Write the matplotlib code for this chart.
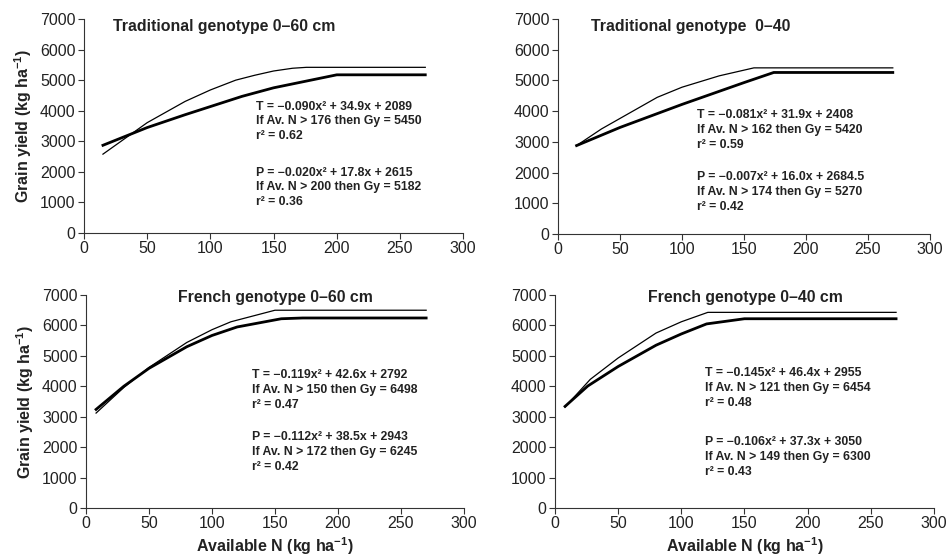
import numpy as np
import matplotlib
matplotlib.use("Agg")
import matplotlib.pyplot as plt

plt.rcParams['font.family'] = ['Liberation Sans', 'DejaVu Sans']
plt.rcParams['mathtext.fontset'] = 'custom'
plt.rcParams['mathtext.rm'] = 'Liberation Sans:bold'
plt.rcParams['mathtext.bf'] = 'Liberation Sans:bold'
plt.rcParams['mathtext.default'] = 'bf'

# valores: N disponible (kg/ha) y rendimiento (kg/ha)
# Traditional 0-60
trad60_T_x = [15, 50, 80, 100, 120, 135, 150, 165, 176, 270]
trad60_T_y = [2580, 3610, 4305, 4680, 5000, 5160, 5300, 5390, 5420, 5420]
trad60_P_x = [15, 50, 80, 125, 150, 200, 270]
trad60_P_y = [2870, 3450, 3870, 4470, 4750, 5175, 5175]

# Traditional 0-40
trad40_T_x = [15, 35, 80, 100, 130, 158, 270]
trad40_T_y = [2880, 3420, 4450, 4780, 5150, 5410, 5410]
trad40_P_x = [15, 50, 80, 100, 150, 174, 270]
trad40_P_y = [2880, 3470, 3920, 4220, 4930, 5260, 5260]

# French 0-60
fr60_T_x = [8, 30, 50, 80, 100, 115, 150, 270]
fr60_T_y = [3120, 3960, 4620, 5440, 5860, 6120, 6500, 6500]
fr60_P_x = [8, 30, 50, 80, 100, 120, 155, 172, 270]
fr60_P_y = [3240, 4000, 4590, 5300, 5670, 5950, 6220, 6245, 6245]

# French 0-40
fr40_T_x = [8, 28, 50, 80, 100, 121, 270]
fr40_T_y = [3320, 4230, 4930, 5750, 6120, 6430, 6430]
fr40_P_x = [8, 26, 50, 80, 100, 120, 150, 270]
fr40_P_y = [3340, 4010, 4650, 5350, 5720, 6050, 6220, 6220]

titulos = ['Traditional genotype 0\u201360 cm', 'Traditional genotype  0\u201340',
           'French genotype 0\u201360 cm', 'French genotype 0\u201340 cm']

textos_T = ['T = \u22120.090x\u00b2 + 34.9x + 2089\nIf Av. N > 176 then Gy = 5450\nr\u00b2 = 0.62',
            'T = \u22120.081x\u00b2 + 31.9x + 2408\nIf Av. N > 162 then Gy = 5420\nr\u00b2 = 0.59',
            'T = \u22120.119x\u00b2 + 42.6x + 2792\nIf Av. N > 150 then Gy = 6498\nr\u00b2 = 0.47',
            'T = \u22120.145x\u00b2 + 46.4x + 2955\nIf Av. N > 121 then Gy = 6454\nr\u00b2 = 0.48']
textos_P = ['P = \u22120.020x\u00b2 + 17.8x + 2615\nIf Av. N > 200 then Gy = 5182\nr\u00b2 = 0.36',
            'P = \u22120.007x\u00b2 + 16.0x + 2684.5\nIf Av. N > 174 then Gy = 5270\nr\u00b2 = 0.42',
            'P = \u22120.112x\u00b2 + 38.5x + 2943\nIf Av. N > 172 then Gy = 6245\nr\u00b2 = 0.42',
            'P = \u22120.106x\u00b2 + 37.3x + 3050\nIf Av. N > 149 then Gy = 6300\nr\u00b2 = 0.43']

curvas = [(trad60_T_x, trad60_T_y, trad60_P_x, trad60_P_y),
          (trad40_T_x, trad40_T_y, trad40_P_x, trad40_P_y),
          (fr60_T_x, fr60_T_y, fr60_P_x, fr60_P_y),
          (fr40_T_x, fr40_T_y, fr40_P_x, fr40_P_y)]

posiciones = [[0.0886, 0.5824, 0.400, 0.3835],
              [0.5886, 0.5806, 0.3924, 0.3853],
              [0.0907, 0.0896, 0.3987, 0.3817],
              [0.5854, 0.0896, 0.3998, 0.3817]]

# donde van los titulos y las ecuaciones (coordenadas de datos)
pos_titulo = [(23, 6760, 'left'), (27, 6760, 'left'), (150, 6930, 'center'), (151, 6930, 'center')]
pos_T = [(136, 4330), (112, 4060), (132, 4560), (119, 4630)]
pos_P = [(136, 2170), (112, 2040), (132, 2520), (119, 2360)]

color_txt = '#222222'
fig = plt.figure(figsize=(9.48, 5.58), dpi=100)

for i in range(4):
    ax = fig.add_axes(posiciones[i])
    tx, ty, px, py = curvas[i]
    ax.plot(tx, ty, color='black', linewidth=0.9)
    ax.plot(px, py, color='black', linewidth=2.0)

    ax.set_xlim(0, 300)
    ax.set_ylim(0, 7000)
    ax.set_xticks(np.arange(0, 301, 50))
    ax.set_yticks(np.arange(0, 7001, 1000))
    ax.spines['top'].set_visible(False)
    ax.spines['right'].set_visible(False)
    ax.spines['left'].set_color('#333333')
    ax.spines['bottom'].set_color('#333333')
    ax.tick_params(direction='out', length=4, width=0.8, labelsize=11.5,
                   colors='#333333', labelcolor=color_txt, pad=2)

    xt, yt, ha = pos_titulo[i]
    ax.text(xt, yt, titulos[i], fontsize=11.4, fontweight='bold', ha=ha, va='center', color=color_txt)
    ax.text(pos_T[i][0], pos_T[i][1], textos_T[i], fontsize=8.8, fontweight='bold',
            va='top', ha='left', linespacing=1.3, color=color_txt)
    ax.text(pos_P[i][0], pos_P[i][1], textos_P[i], fontsize=8.8, fontweight='bold',
            va='top', ha='left', linespacing=1.3, color=color_txt)

    if i % 2 == 0:
        ax.set_ylabel('Grain yield (kg ha$^{-1}$)', fontsize=11.5, fontweight='bold', color=color_txt, labelpad=4)
    if i >= 2:
        ax.set_xlabel('Available N (kg ha$^{-1}$)', fontsize=11.5, fontweight='bold', color=color_txt, labelpad=3)

fig.savefig('out.png', dpi=100)
